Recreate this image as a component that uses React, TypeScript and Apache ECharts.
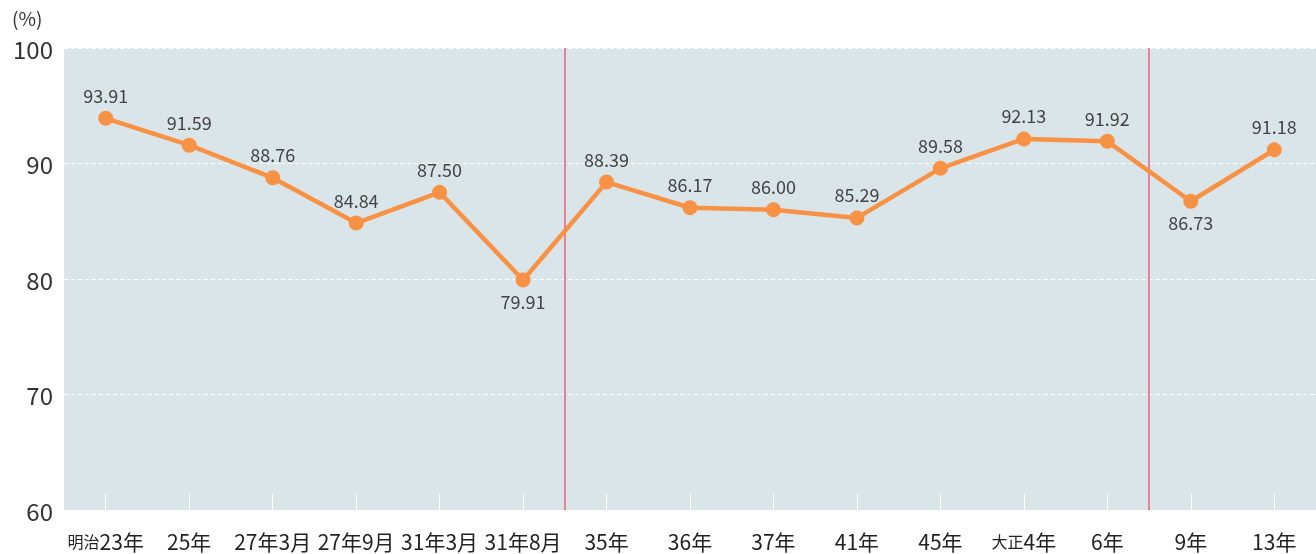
import React, { useEffect, useRef } from "react";
import * as echarts from "echarts";

const categories = ["明治23年", "25年", "27年3月", "27年9月", "31年3月", "31年8月", "35年", "36年", "37年", "41年", "45年", "大正4年", "6年", "9年", "13年"];
const values = [93.91, 91.59, 88.76, 84.84, 87.5, 79.91, 88.39, 86.17, 86.0, 85.29, 89.58, 92.13, 91.92, 86.73, 91.18];
const belowLabels = [5, 13];
const eraBoundaries = [5.5, 12.5];
const yTicks = { min: 60, max: 100, interval: 10 };

const FONT = "'Noto Sans CJK JP', 'Noto Sans', sans-serif";

export default function App() {
  const ref = useRef<HTMLDivElement>(null);
  useEffect(() => {
    if (!ref.current) return;
    const chart = echarts.init(ref.current, undefined, { renderer: "svg" });
    chart.setOption({
      animation: false,
      textStyle: { fontFamily: FONT },
      graphic: [
        { type: "text", left: 12, top: 8, style: { text: "(%)", fontSize: 19, fill: "#333", fontFamily: FONT } },
      ],
      grid: {
        left: 64, right: 0, top: 48, bottom: 44,
        show: true, backgroundColor: "#dae5ea", borderWidth: 0,
      },
      xAxis: [
        {
          type: "category",
          data: categories,
          boundaryGap: true,
          axisLine: { show: false },
          axisTick: { show: true, inside: true, alignWithLabel: true, interval: 0, length: 16, lineStyle: { color: "#ffffff", width: 1 } },
          axisLabel: {
            interval: 0,
            margin: 20,
            fontSize: 21,
            color: "#222",
            fontFamily: FONT,
            formatter: (v: string) => {
              const m = v.match(/^(明治|大正)(.*)$/);
              return m ? `{era|${m[1]}}${m[2]}` : v;
            },
            rich: { era: { fontSize: 16, color: "#222", fontFamily: FONT } },
          },
          splitLine: { show: false },
        },
        {
          type: "value",
          min: -0.5,
          max: categories.length - 0.5,
          show: false,
          position: "bottom",
        },
      ],
      yAxis: {
        type: "value",
        min: yTicks.min,
        max: yTicks.max,
        interval: yTicks.interval,
        axisLine: { show: false },
        axisTick: { show: false },
        axisLabel: { fontSize: 24, color: "#333", margin: 11, fontFamily: FONT, padding: [4, 0, 0, 0] },
        splitLine: { show: true, lineStyle: { color: "#ffffff", type: [4, 3], width: 1 } },
      },
      series: [
        {
          type: "line",
          data: values.map((v, i) => ({
            value: v,
            label: belowLabels.includes(i) ? { position: "bottom", distance: 4 } : { position: "top" },
          })),
          lineStyle: { color: "#f79245", width: 4.5 },
          itemStyle: { color: "#f79245" },
          symbol: "circle",
          symbolSize: 15,
          label: {
            show: true,
            distance: 7,
            fontSize: 18,
            color: "#444",
            fontFamily: FONT,
            formatter: (p: any) => Number(p.value).toFixed(2),
          },
          z: 5,
        },
        {
          type: "line",
          xAxisIndex: 1,
          data: [],
          markLine: {
            silent: true,
            symbol: "none",
            label: { show: false },
            lineStyle: { color: "#e8607a", width: 1.5, type: "solid" },
            data: eraBoundaries.map((x) => ({ xAxis: x })),
          },
          z: 3,
        },
      ],
    });
    return () => chart.dispose();
  }, []);
  return <div ref={ref} style={{ position: "fixed", left: 0, top: 0, width: 1316, height: 554 }} />;
}
